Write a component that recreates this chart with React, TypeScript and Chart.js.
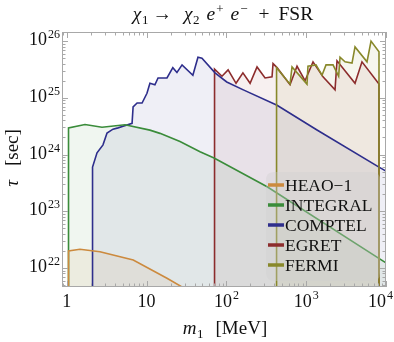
import React, { useEffect, useRef } from "react";
import { Chart, registerables } from "chart.js";

Chart.register(...registerables);

// ---- data (m1 in MeV, tau in seconds) ----
const heaoM = [1.05, 1.05, 1.46, 2.6, 6.8, 18, 28, 45];
const heaoTau = [1e21, 2.0e22, 2.14e22, 1.93e22, 1.38e22, 6.6e21, 4.6e21, 2.0e21];

const integralM = [1.05, 1.05, 1.69, 2.76, 5.36, 11.0, 14.7, 26.2, 46.7, 70, 324, 8330, 10000];
const integralTau = [1e21, 2.95e24, 3.39e24, 3.02e24, 3.35e24, 2.69e24, 2.36e24, 1.7e24, 1.12e24, 8.7e23, 2.7e23, 1.45e22, 1.23e22];

const comptelM = [2.08, 2.08, 2.12, 2.39, 2.84, 3.19, 3.79, 4.38, 5.07, 6.57, 6.77, 7.6, 8.77, 10.1, 11.0, 12.7, 13.9, 18.0, 21.3, 24.0, 27.8, 38.0, 44.0, 49.4, 72, 101, 163, 431, 1366, 8170, 10000];
const comptelTau = [1e21, 2.3e23, 6.0e23, 1.07e24, 1.48e24, 2.4e24, 2.8e24, 2.95e24, 3.16e24, 3.55e24, 6.9e24, 8.1e24, 8.1e24, 1.2e25, 1.8e25, 1.7e25, 2.24e25, 2.24e25, 3.4e25, 2.8e25, 3.8e25, 2.5e25, 5.2e25, 5.0e25, 2.75e25, 1.9e25, 1.38e25, 7.4e24, 2.7e24, 6.0e23, 5.1e23];

const egretM = [71, 71, 88, 105, 132, 161, 198, 242, 305, 373, 384, 431, 627, 767, 967, 1217, 1624, 2297, 2433, 4090, 5000, 8170, 8170];
const egretTau = [1e21, 3.2e25, 2.4e25, 3.1e25, 1.8e25, 2.75e25, 1.8e25, 3.5e25, 2.24e25, 2.34e25, 4.0e25, 3.4e25, 1.7e25, 3.6e25, 2.0e25, 4.3e25, 2.34e25, 1.38e25, 4.5e25, 1.8e25, 4.3e25, 1.75e25, 1e21];

const fermiM = [425, 425, 627, 664, 1023, 1052, 1327, 1578, 1771, 2168, 2550, 2654, 3064, 3750, 4090, 5780, 6490, 8170, 8170];
const fermiTau = [1e21, 3.4e25, 1.74e25, 3.5e25, 1.74e25, 3.6e25, 3.8e25, 2.5e25, 3.8e25, 3.8e25, 2.4e25, 5.2e25, 4.3e25, 4.1e25, 7.9e25, 4.3e25, 1.0e26, 6.5e25, 1e21];

const seriesNames = ["HEAO\u22121", "INTEGRAL", "COMPTEL", "EGRET", "FERMI"];
const seriesColors = ["rgb(204,138,62)", "rgb(58,140,58)", "rgb(46,46,140)", "rgb(140,44,44)", "rgb(136,136,42)"];
const seriesFills = ["rgba(204,138,62,0.09)", "rgba(58,140,58,0.08)", "rgba(46,46,140,0.08)", "rgba(140,44,44,0.07)", "rgba(136,136,42,0.08)"];
const seriesOrder = [0, 0, 0, 0, -1];

const xTickValues = [1, 10, 100, 1000, 10000];
const xTickBase = ["1", "10", "10", "10", "10"];
const xTickExp = ["", "", "2", "3", "4"];
const yTickValues = [1e22, 1e23, 1e24, 1e25, 1e26];
const yTickBase = ["10", "10", "10", "10", "10"];
const yTickExp = ["22", "23", "24", "25", "26"];

const X_MIN = 0.87;
const X_MAX = 10000;
const Y_MIN = 4.62e21;
const Y_MAX = 1.445e26;

const SERIF = '"Liberation Serif", "Times New Roman", serif';

function zip(xs: number[], ys: number[]) {
  return xs.map((x, i) => ({ x, y: ys[i] }));
}

// text run: [text, font, gapBefore, dy]
type Run = [string, string, number, number];
function drawRuns(ctx: CanvasRenderingContext2D, runs: Run[], cx: number, baseY: number) {
  let total = 0;
  runs.forEach(([t, f, g]) => {
    ctx.font = f;
    total += g + ctx.measureText(t).width;
  });
  let x = cx - total / 2;
  ctx.textAlign = "left";
  runs.forEach(([t, f, g, dy]) => {
    ctx.font = f;
    x += g;
    ctx.fillText(t, x, baseY + dy);
    x += ctx.measureText(t).width;
  });
}

const decorPlugin = {
  id: "decor",
  afterDatasetsDraw(chart: any) {
    const ctx: CanvasRenderingContext2D = chart.ctx;
    const a = chart.chartArea;
    const xs = chart.scales.x;
    const ys = chart.scales.y;
    ctx.save();
    // frame
    ctx.strokeStyle = "#a8a8a8";
    ctx.lineWidth = 1;
    ctx.strokeRect(a.left + 0.5, a.top + 0.5, a.right - a.left - 1, a.bottom - a.top - 1);
    // ticks
    ctx.beginPath();
    for (let d = -1; d <= 4; d++) {
      for (let k = 1; k <= 9; k++) {
        const v = k * Math.pow(10, d);
        if (v < X_MIN || v > X_MAX * 1.0001) continue;
        const p = Math.round(xs.getPixelForValue(v)) + 0.5;
        const len = k === 1 ? 6 : 3.5;
        ctx.moveTo(p, a.bottom);
        ctx.lineTo(p, a.bottom - len);
        ctx.moveTo(p, a.top);
        ctx.lineTo(p, a.top + len);
      }
    }
    for (let d = 21; d <= 26; d++) {
      for (let k = 1; k <= 9; k++) {
        const v = k * Math.pow(10, d);
        if (v < Y_MIN || v > Y_MAX) continue;
        const p = Math.round(ys.getPixelForValue(v)) + 0.5;
        const len = k === 1 ? 6 : 3.5;
        ctx.moveTo(a.left, p);
        ctx.lineTo(a.left + len, p);
        ctx.moveTo(a.right, p);
        ctx.lineTo(a.right - len, p);
      }
    }
    ctx.stroke();

    // tick labels
    ctx.fillStyle = "#111";
    ctx.textBaseline = "alphabetic";
    const big = "18px " + SERIF;
    const small = "12px " + SERIF;
    xTickValues.forEach((v, i) => {
      const p = xs.getPixelForValue(v);
      ctx.font = big;
      const w1 = ctx.measureText(xTickBase[i]).width;
      ctx.font = small;
      const w2 = xTickExp[i] ? ctx.measureText(xTickExp[i]).width + 1 : 0;
      let x0 = p - (w1 + w2) / 2;
      if (x0 + w1 + w2 > 393) x0 = 393 - w1 - w2;
      ctx.font = big;
      ctx.textAlign = "left";
      ctx.fillText(xTickBase[i], x0, 307);
      if (xTickExp[i]) {
        ctx.font = small;
        ctx.fillText(xTickExp[i], x0 + w1 + 1, 299);
      }
    });
    yTickValues.forEach((v, i) => {
      const p = ys.getPixelForValue(v);
      ctx.font = small;
      const w2 = ctx.measureText(yTickExp[i]).width;
      ctx.textAlign = "left";
      ctx.fillText(yTickExp[i], 60 - w2, p - 3);
      ctx.font = big;
      const w1 = ctx.measureText(yTickBase[i]).width;
      ctx.fillText(yTickBase[i], 60 - w2 - 1 - w1, p + 4);
    });

    // title
    const itT = "italic 19.5px " + SERIF;
    const rT = "19.5px " + SERIF;
    const rS = "13px " + SERIF;
    drawRuns(
      ctx,
      [
        ["\u03c7", itT, 0, 0],
        ["1", rS, 0.5, 4],
        ["\u2192", rT, 4, 0],
        ["\u03c7", itT, 12, 0],
        ["2", rS, 0.5, 4],
        ["e", itT, 7, 0],
        ["+", rS, 1, -7],
        ["e", itT, 7, 0],
        ["\u2212", rS, 1, -7],
        ["+", rT, 11, 0],
        ["FSR", rT, 9, 0],
      ],
      223,
      20
    );

    // x axis title
    drawRuns(
      ctx,
      [
        ["m", "italic 19px " + SERIF, 0, 0],
        ["1", "13px " + SERIF, 0.5, 4],
        ["[MeV]", "19px " + SERIF, 12, 0],
      ],
      225,
      334
    );

    // y axis title
    ctx.save();
    ctx.translate(18, 158);
    ctx.rotate(-Math.PI / 2);
    drawRuns(
      ctx,
      [
        ["\u03c4", "italic 19px " + SERIF, 0, 0],
        ["[sec]", "19px " + SERIF, 14, 0],
      ],
      0,
      0
    );
    ctx.restore();

    // legend
    const lx = 266, ly = 172, lw = 114, lh = 109, r = 8;
    ctx.beginPath();
    ctx.moveTo(lx + r, ly);
    ctx.lineTo(lx + lw - r, ly);
    ctx.quadraticCurveTo(lx + lw, ly, lx + lw, ly + r);
    ctx.lineTo(lx + lw, ly + lh - r);
    ctx.quadraticCurveTo(lx + lw, ly + lh, lx + lw - r, ly + lh);
    ctx.lineTo(lx + r, ly + lh);
    ctx.quadraticCurveTo(lx, ly + lh, lx, ly + lh - r);
    ctx.lineTo(lx, ly + r);
    ctx.quadraticCurveTo(lx, ly, lx + r, ly);
    ctx.closePath();
    ctx.fillStyle = "rgba(205,205,205,0.35)";
    ctx.fill();
    seriesNames.forEach((name, i) => {
      const cy = 185 + i * 20;
      ctx.strokeStyle = seriesColors[i];
      ctx.lineWidth = 3.5;
      ctx.beginPath();
      ctx.moveTo(268, cy);
      ctx.lineTo(284, cy);
      ctx.stroke();
      ctx.fillStyle = "#111";
      ctx.font = "17.5px " + SERIF;
      ctx.textAlign = "left";
      ctx.fillText(name, 285, cy + 6);
    });
    ctx.restore();
  },
};

export default function App() {
  const ref = useRef<HTMLCanvasElement | null>(null);
  useEffect(() => {
    if (!ref.current) return;
    const sets = [
      zip(heaoM, heaoTau),
      zip(integralM, integralTau),
      zip(comptelM, comptelTau),
      zip(egretM, egretTau),
      zip(fermiM, fermiTau),
    ];
    const chart = new Chart(ref.current, {
      type: "line",
      data: {
        datasets: sets.map((d, i) => ({
          label: seriesNames[i],
          data: d,
          order: seriesOrder[i],
          borderColor: seriesColors[i],
          backgroundColor: seriesFills[i],
          borderWidth: 1.6,
          pointRadius: 0,
          tension: 0,
          fill: "start",
        })),
      },
      options: {
        responsive: false,
        devicePixelRatio: 1,
        animation: false,
        events: [],
        layout: { padding: { left: 62, top: 32, right: 8, bottom: 55 } },
        scales: {
          x: { type: "logarithmic", min: X_MIN, max: X_MAX, display: false },
          y: { type: "logarithmic", min: Y_MIN, max: Y_MAX, display: false },
        },
        plugins: {
          legend: { display: false },
          title: { display: false },
          tooltip: { enabled: false },
          filler: { drawTime: "beforeDatasetsDraw" },
        },
      } as any,
      plugins: [decorPlugin],
    });
    return () => chart.destroy();
  }, []);
  return (
    <div style={{ position: "fixed", left: 0, top: 0, width: 394, height: 342, background: "#fff" }}>
      <canvas ref={ref} width={394} height={342} style={{ display: "block" }} />
    </div>
  );
}
